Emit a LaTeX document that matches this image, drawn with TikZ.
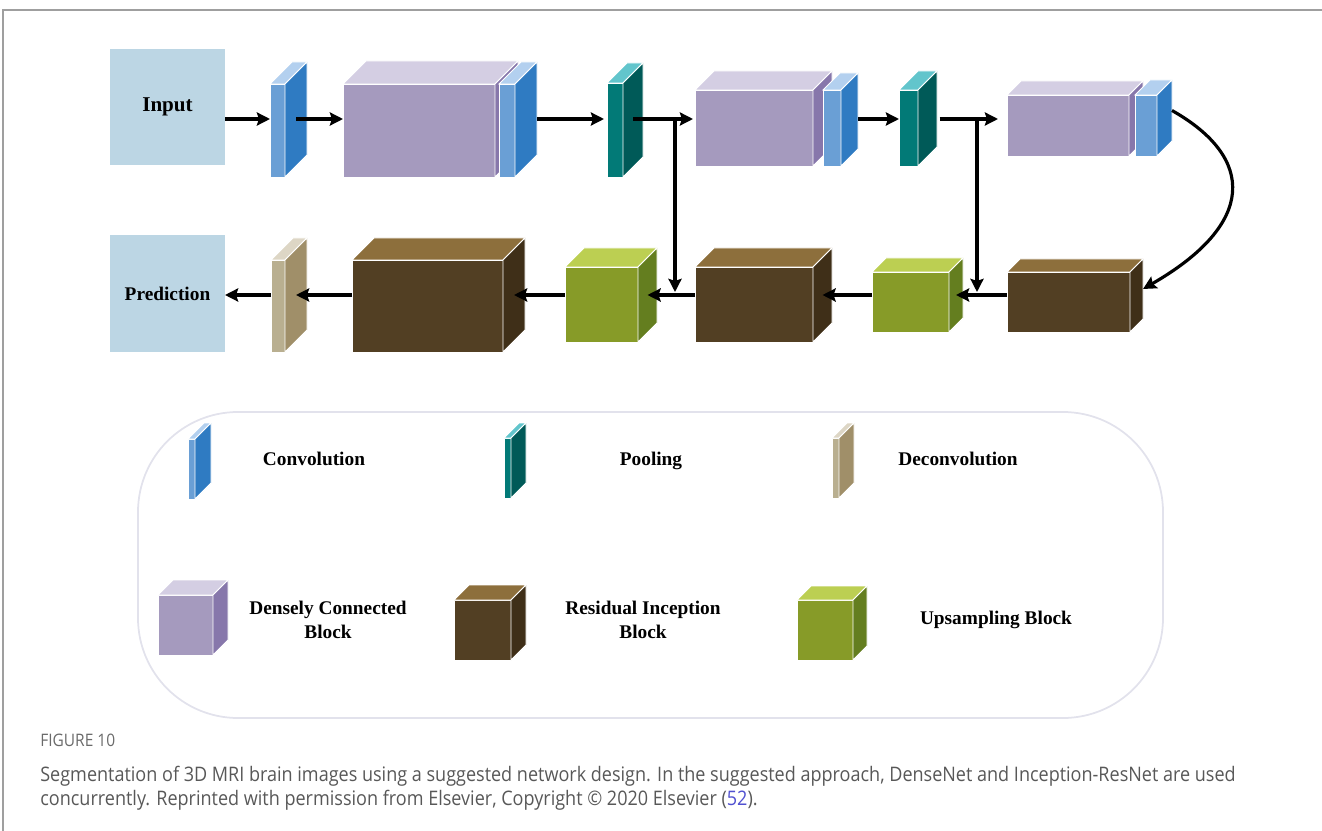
\documentclass[tikz,border=0pt]{standalone}
\usepackage{fontspec}
\setmainfont{Liberation Serif}
\newfontfamily\capfont[FakeStretch=0.9]{Open Sans}
\usepackage{tikz}
\usetikzlibrary{arrows.meta}
\definecolor{boxblue}{HTML}{BCD6E4}
\definecolor{convF}{HTML}{6A9FD5}
\definecolor{convS}{HTML}{2F7BC2}
\definecolor{convT}{HTML}{B3D0EF}
\definecolor{denseF}{HTML}{A59ABE}
\definecolor{denseS}{HTML}{8777AB}
\definecolor{denseT}{HTML}{D4CEE3}
\definecolor{poolF}{HTML}{027A77}
\definecolor{poolS}{HTML}{005A58}
\definecolor{poolT}{HTML}{62C5CC}
\definecolor{resF}{HTML}{523F23}
\definecolor{resS}{HTML}{3F2F18}
\definecolor{resT}{HTML}{8D6F3C}
\definecolor{upF}{HTML}{879B28}
\definecolor{upS}{HTML}{647E1F}
\definecolor{upT}{HTML}{BCCF52}
\definecolor{deconvF}{HTML}{B9AF90}
\definecolor{deconvS}{HTML}{A08F69}
\definecolor{deconvT}{HTML}{DDD6C5}
\definecolor{capgray}{HTML}{585858}
\definecolor{figgray}{HTML}{6A6A6A}
\definecolor{reflink}{HTML}{5050D0}
\tikzset{x=0.02cm,y=-0.02cm,
  face/.style={draw=white,line width=0.5pt,inner sep=0pt,outer sep=0pt},
  io/.style={fill=boxblue,inner sep=0pt,outer sep=0pt,font=\bfseries\fontsize{12}{14}\selectfont},
  flow/.style={line width=1.8pt,-{Stealth[length=7.5pt,width=7.5pt,inset=1.2pt]}},
  key/.style={font=\bfseries\fontsize{11}{13.5}\selectfont,align=center},
  captext/.style={anchor=west,inner sep=0pt,font=\capfont\fontsize{11.4}{13}\selectfont,text=capgray}}
% #1 name, #2 colours, #3-#6 front face (left,top,right,bottom), #7 depth
\newcommand{\layer}[7]{%
  \node[face,fill=#2F,minimum width={(#5-#3)*0.02cm},minimum height={(#6-#4)*0.02cm}] (#1) at ({(#3+#5)/2},{(#4+#6)/2}) {};
  \filldraw[face,fill=#2T] (#1.north west) -- ++(#7,-#7) -- ([shift={(#7,-#7)}]#1.north east) -- (#1.north east) -- cycle;
  \filldraw[face,fill=#2S] (#1.north east) -- ++(#7,-#7) -- ([shift={(#7,-#7)}]#1.south east) -- (#1.south east) -- cycle;
  \coordinate (#1-s) at ([shift={(#7/2,-#7/2)}]#1.east);
  \coordinate (#1-e) at ([shift={(#7,-#7)}]#1.east);
}

\begin{document}
\begin{tikzpicture}
\useasboundingbox (0,0) rectangle (1322,831);
\draw[gray!75,line width=1pt] (3,831) -- (3,10) -- (1322,10);

% encoder
\node[io,minimum width=115*0.02cm,minimum height=116*0.02cm] (in) at (167.5,107) {Input};
\layer{c1}{conv}{270}{84}{285}{177}{22}
\layer{d1}{dense}{343}{84}{495}{177}{23}
\layer{c2}{conv}{499}{84}{515}{177}{22}
\layer{p1}{pool}{607}{83}{623}{177}{20}
\layer{d2}{dense}{695}{90}{813}{166}{19}
\layer{c3}{conv}{823}{90}{841}{166}{17}
\layer{p2}{pool}{899}{90}{918}{166}{19}
\layer{d3}{dense}{1007}{95}{1129}{156}{14}
\layer{c4}{conv}{1135}{95}{1157}{156}{15}

% decoder
\layer{r3}{res}{1007}{272}{1130}{332}{13}
\layer{u2}{up}{872}{272}{949}{332}{14}
\layer{r2}{res}{695}{267}{813}{342}{19}
\layer{u1}{up}{565}{267}{638}{342}{19}
\layer{r1}{res}{352}{260}{503}{352}{22}
\layer{dc}{deconv}{271}{260}{285}{352}{22}
\node[io,font=\bfseries\fontsize{11}{13}\selectfont,minimum width=115*0.02cm,minimum height=117*0.02cm] (pr) at (167.5,293.5) {Prediction};

\coordinate (rowa) at (0,119);
\coordinate (rowb) at (0,295);
\coordinate (br1) at (675,119);
\coordinate (br2) at (977,119);

\draw[flow] (in.east |- rowa) -- (c1.west |- rowa);
\draw[flow] (c1-s |- rowa) -- (d1.west |- rowa);
\draw[flow] (c2-e |- rowa) -- ([xshift=-3*0.02cm]p1.west |- rowa);
\draw[flow] (p1-s |- rowa) -- ([xshift=-2*0.02cm]d2.west |- rowa);
\draw[flow] (c3-e |- rowa) -- (p2.west |- rowa);
\draw[flow] ([xshift=12*0.02cm]p2-s |- rowa) -- ([xshift=-9*0.02cm]d3.west |- rowa);
\draw[flow] (c4-e) .. controls (1256,158) and (1256,224) .. (r3-e);
\draw[flow] (r3.west |- rowb) -- (u2-s |- rowb);
\draw[flow] (u2.west |- rowb) -- (r2-s |- rowb);
\draw[flow] (r2.west |- rowb) -- (u1-s |- rowb);
\draw[flow] (u1.west |- rowb) -- (r1-s |- rowb);
\draw[flow] (r1.west |- rowb) -- (dc-s |- rowb);
\draw[flow] (dc.west |- rowb) -- (pr.east |- rowb);
\draw[flow] (br1) -- ([yshift=3*0.02cm]br1 |- rowb);
\draw[flow] (br2) -- ([yshift=3*0.02cm]br2 |- rowb);

% legend
\draw[draw={rgb,255:red,226;green,226;blue,236},line width=1pt,rounded corners=2cm] (138,412) rectangle (1163,718);
\layer{lc}{conv}{188}{439}{195}{499}{16}
\layer{lp}{pool}{504}{438}{511}{498}{15}
\layer{ldc}{deconv}{832}{438}{839}{498}{15}
\layer{ld}{dense}{158}{595}{213}{655}{15}
\layer{lr}{res}{454}{600}{511}{660}{15}
\layer{lu}{up}{797}{600}{853}{660}{14}
\node[key] (tc) at (314,459) {Convolution};
\node[key] (tp) at (651,461) {Pooling};
\node[key] (tdc) at (958,459) {Deconvolution};
\node[key] (td) at (328,620) {Densely Connected\\Block};
\node[key] (tr) at (643,620) {Residual Inception\\Block};
\node[key] (tu) at (996,620) {Upsampling Block};

% caption
\node[captext,font=\capfont\fontsize{9.8}{11}\selectfont,text=figgray] (fig) at (40,740) {FIGURE 10};
\node[captext] (cap1) at (40,776) {Segmentation of 3D MRI brain images using a suggested network design. In the suggested approach, DenseNet and Inception-ResNet are used};
\node[captext] (cap2) at (40,800) {concurrently. Reprinted with permission from Elsevier, Copyright \textcopyright{} 2020 Elsevier (\textcolor{reflink}{52}).};
\end{tikzpicture}
\end{document}
